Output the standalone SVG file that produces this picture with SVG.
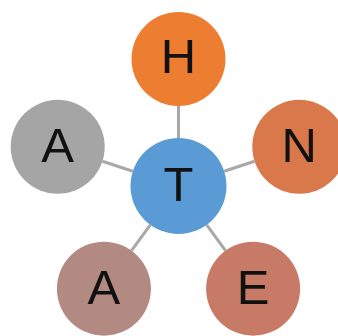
<svg xmlns="http://www.w3.org/2000/svg" width="338" height="336" viewBox="0 0 338 336">
<style>
.c{stroke:none}
.t{font-family:"Liberation Sans",Arial,sans-serif;font-size:49px;fill:#111;text-anchor:middle}
.l{stroke:#A8A8A8;stroke-width:3;fill:none}
</style>
<rect width="338" height="336" fill="#fff"/>
<g id="connectors">
<line class="l" x1="178.5" y1="138" x2="178.5" y2="106"/>
<line class="l" x1="224.2" y1="171.2" x2="254.6" y2="161.3"/>
<line class="l" x1="206.7" y1="224.8" x2="225.5" y2="250.7"/>
<line class="l" x1="150.3" y1="224.8" x2="131.5" y2="250.7"/>
<line class="l" x1="132.8" y1="171.2" x2="102.4" y2="161.3"/>
</g>
<g id="node-H"><circle class="c" cx="178.5" cy="59" r="47" fill="#ED7D31"/><text class="t" x="178.5" y="73">H</text></g>
<g id="node-N"><circle class="c" cx="299.3" cy="146.8" r="47" fill="#D9784A"/><text class="t" x="299.3" y="161.5">N</text></g>
<g id="node-E"><circle class="c" cx="253.1" cy="288.7" r="47" fill="#C77B67"/><text class="t" x="253.1" y="303.5">E</text></g>
<g id="node-A2"><circle class="c" cx="103.9" cy="288.7" r="47" fill="#B38A82"/><text class="t" x="103.9" y="303.5">A</text></g>
<g id="node-A1"><circle class="c" cx="57.7" cy="146.8" r="47" fill="#A5A5A5"/><text class="t" x="57.7" y="161.5">A</text></g>
<g id="node-T"><circle class="c" cx="178.5" cy="186" r="48" fill="#5B9BD5"/><text class="t" x="178.5" y="201">T</text></g>
</svg>
